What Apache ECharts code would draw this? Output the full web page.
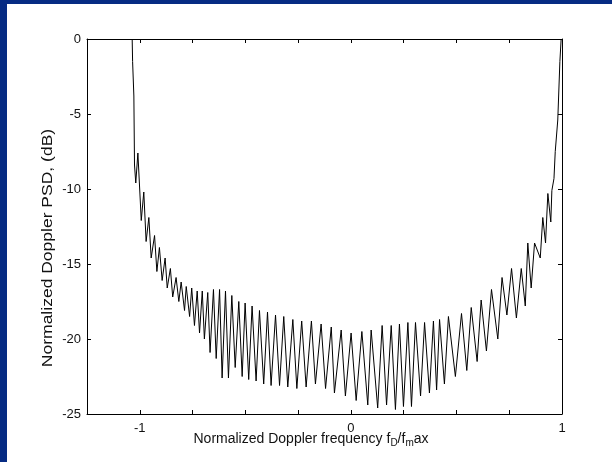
<!DOCTYPE html>
<html>
<head>
<meta charset="utf-8">
<script src="https://cdn.jsdelivr.net/npm/echarts@6/dist/echarts.min.js"></script>
<style>
    html, body { margin: 0; padding: 0; background: #fff; }
    #psd { width: 612px; height: 462px; }
</style>
</head>
<body>
<div id="psd"></div>
<script>
// normalized doppler frequency (fD/fmax)
var freq = [
    -1.036, -1.034, -1.028, -1.025, -1.019, -1.009, -0.993, -0.981, -0.970, -0.957,
    -0.946, -0.930, -0.919, -0.907, -0.894, -0.880, -0.870, -0.855, -0.844, -0.828,
    -0.815, -0.804, -0.788, -0.780, -0.764, -0.754, -0.741, -0.728, -0.717, -0.704,
    -0.694, -0.678, -0.667, -0.651, -0.638, -0.622, -0.610, -0.594, -0.580, -0.564,
    -0.548, -0.531, -0.515, -0.501, -0.484, -0.468, -0.449, -0.433, -0.413, -0.395,
    -0.378, -0.357, -0.338, -0.318, -0.299, -0.275, -0.256, -0.233, -0.212, -0.187,
    -0.168, -0.141, -0.120, -0.093, -0.078, -0.046, -0.026, 0.001, 0.025, 0.052,
    0.080, 0.096, 0.127, 0.148, 0.169, 0.191, 0.211, 0.230, 0.249, 0.270,
    0.287, 0.306, 0.330, 0.349, 0.372, 0.391, 0.406, 0.420, 0.443, 0.462,
    0.495, 0.524, 0.549, 0.570, 0.598, 0.617, 0.642, 0.666, 0.696, 0.716,
    0.739, 0.761, 0.784, 0.807, 0.826, 0.838, 0.854, 0.870, 0.897, 0.909,
    0.922, 0.933, 0.947, 0.952, 0.962, 0.968, 0.980, 0.990, 0.996
];
// PSD in dB at those points (peaks and dips of the ripple)
var psd = [
    0.0, -1.5, -3.8, -8.4, -9.6, -7.6, -12.1, -10.2, -13.5, -11.9,
    -14.6, -13.1, -15.5, -13.9, -16.1, -14.6, -16.6, -15.3, -17.2, -15.9,
    -17.5, -16.2, -18.1, -16.5, -18.5, -16.6, -19.1, -16.8, -19.6, -16.8,
    -20.0, -16.9, -20.9, -16.7, -21.3, -16.7, -22.6, -16.8, -22.6, -17.1,
    -21.9, -17.5, -22.5, -17.6, -22.7, -17.8, -22.8, -18.1, -23.0, -18.2,
    -23.1, -18.4, -23.1, -18.5, -23.2, -18.7, -23.3, -18.8, -23.2, -18.8,
    -23.0, -19.0, -23.3, -19.2, -23.6, -19.4, -23.8, -19.6, -24.1, -19.5,
    -24.4, -19.4, -24.6, -19.1, -24.4, -19.1, -24.7, -19.0, -24.5, -18.9,
    -24.5, -18.9, -23.8, -18.9, -23.6, -18.8, -23.4, -18.7, -23.0, -18.5,
    -22.5, -18.3, -22.1, -17.9, -21.5, -17.4, -20.8, -16.7, -20.0, -15.9,
    -18.4, -15.3, -18.6, -15.3, -17.8, -13.6, -16.6, -13.6, -14.6, -11.9,
    -13.6, -10.3, -12.2, -10.1, -9.3, -7.5, -5.4, -1.5, 0.0
];
var xLabelVals = [-1, 0, 1];
var yMin = -25, yMax = 0, yStep = 5;
var xMin = -1.25, xMax = 1, xStep = 0.25;

(function () {
    var myChart = echarts.init(document.getElementById('psd'), null, { renderer: 'canvas' });
    var data = [];
    for (var i = 0; i < freq.length; i++) {
        data.push([freq[i], psd[i]]);
    }
    var font = 'Liberation Sans, Arial, sans-serif';
    var txt = '#111';

    function xAx(pos, showLabel) {
        return {
            type: 'value', position: pos, min: xMin, max: xMax, interval: xStep,
            axisLine: { show: true, onZero: false, lineStyle: { color: '#000', width: 1 } },
            axisTick: { show: true, inside: true, length: 4, lineStyle: { color: '#000' } },
            splitLine: { show: false },
            axisLabel: {
                show: showLabel, margin: 8, color: txt, fontFamily: font, fontSize: 13,
                formatter: function (v) {
                    return xLabelVals.indexOf(v) >= 0 ? String(v) : '';
                }
            }
        };
    }
    function yAx(pos, showLabel) {
        return {
            type: 'value', position: pos, min: yMin, max: yMax, interval: yStep,
            axisLine: { show: true, onZero: false, lineStyle: { color: '#000', width: 1 } },
            axisTick: { show: true, inside: true, length: 4, lineStyle: { color: '#000' } },
            splitLine: { show: false },
            axisLabel: { show: showLabel, margin: 6, color: txt, fontFamily: font, fontSize: 13 }
        };
    }

    var option = {
        backgroundColor: '#fff',
        animation: false,
        grid: { left: 87, top: 39, width: 475, height: 375 },
        xAxis: [xAx('bottom', true), xAx('top', false)],
        yAxis: [yAx('left', true), yAx('right', false)],
        graphic: [
            // blue slide border
            { type: 'rect', left: 0, top: 0, shape: { width: 612, height: 4 }, style: { fill: '#062b83' } },
            { type: 'rect', left: 0, top: 0, shape: { width: 7, height: 462 }, style: { fill: '#062b83' } },
            {
                type: 'text', x: 48, y: 248, rotation: Math.PI / 2, scaleX: 1.25,
                style: {
                    text: 'Normalized Doppler PSD, (dB)', fill: txt,
                    font: '14px Liberation Sans, Arial, sans-serif',
                    textAlign: 'center', textVerticalAlign: 'middle'
                }
            },
            {
                type: 'text', x: 311, y: 439,
                style: {
                    text: 'Normalized Doppler frequency f{sub|D}/f{sub|m}ax', fill: txt,
                    font: '14px Liberation Sans, Arial, sans-serif',
                    textAlign: 'center', textVerticalAlign: 'middle',
                    rich: {
                        sub: { fontSize: 10, fill: txt, fontFamily: font, padding: [8, 0, 0, 0] }
                    }
                }
            }
        ],
        series: [
            {
                type: 'line',
                data: data,
                showSymbol: false,
                symbol: 'none',
                lineStyle: { color: '#000', width: 1 },
                clip: true
            }
        ]
    };
    myChart.setOption(option);
})();
</script>
</body>
</html>
